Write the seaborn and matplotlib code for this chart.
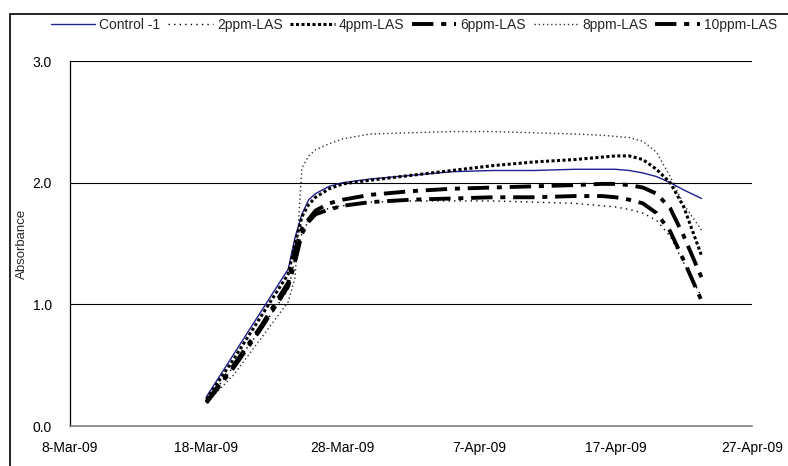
import numpy as np
import pandas as pd
import matplotlib
matplotlib.use("Agg")
import matplotlib.pyplot as plt
import matplotlib.dates as mdates
from matplotlib.patches import Rectangle
import seaborn as sns

# ---- data (days since 8-Mar-2009) ----
start_date = "2009-03-08"
day_offsets = [10, 12, 14, 16, 16.5, 17, 17.5, 18, 19, 20, 22, 25, 28, 31, 34, 37,
               39, 40, 41, 42, 43, 44, 45, 46.3]
control_1 = [0.24, 0.59, 0.94, 1.29, 1.55, 1.74, 1.86, 1.91, 1.97, 2.00, 2.03, 2.06,
             2.09, 2.10, 2.10, 2.11, 2.11, 2.11, 2.10, 2.08, 2.05, 2.00, 1.94, 1.87]
ppm2 = [0.20, 0.49, 0.80, 1.12, 1.38, 1.58, 1.69, 1.75, 1.79, 1.81, 1.84, 1.85,
        1.85, 1.85, 1.84, 1.83, 1.81, 1.80, 1.78, 1.75, 1.69, 1.56, 1.34, 1.06]
ppm4 = [0.22, 0.55, 0.90, 1.25, 1.50, 1.72, 1.82, 1.88, 1.95, 1.99, 2.02, 2.06,
        2.10, 2.14, 2.17, 2.19, 2.21, 2.22, 2.22, 2.19, 2.11, 2.00, 1.80, 1.40]
ppm6 = [0.20, 0.50, 0.82, 1.18, 1.45, 1.62, 1.70, 1.77, 1.83, 1.86, 1.90, 1.93,
        1.95, 1.96, 1.97, 1.98, 1.99, 1.99, 1.98, 1.96, 1.91, 1.79, 1.56, 1.22]
ppm8 = [0.19, 0.42, 0.72, 1.02, 1.22, 2.12, 2.22, 2.27, 2.32, 2.36, 2.40, 2.41,
        2.42, 2.42, 2.41, 2.40, 2.39, 2.38, 2.37, 2.34, 2.25, 2.05, 1.82, 1.61]
ppm10 = [0.19, 0.48, 0.80, 1.15, 1.35, 1.58, 1.68, 1.74, 1.78, 1.81, 1.84, 1.86,
         1.87, 1.88, 1.88, 1.89, 1.89, 1.88, 1.86, 1.83, 1.75, 1.60, 1.36, 1.03]
series_names = ["Control -1", "2ppm-LAS", "4ppm-LAS", "6ppm-LAS", "8ppm-LAS", "10ppm-LAS"]
y_ticks = [0.0, 1.0, 2.0, 3.0]
x_tick_dates = ["2009-03-08", "2009-03-18", "2009-03-28", "2009-04-07", "2009-04-17", "2009-04-27"]

dates = pd.Timestamp(start_date) + pd.to_timedelta(day_offsets, unit="D")
values = [control_1, ppm2, ppm4, ppm6, ppm8, ppm10]

styles = {
    "Control -1": dict(color="#1f1f8f", lw=1.0, ls="-"),
    "2ppm-LAS": dict(color="black", lw=1.0, ls=(0, (1, 3))),
    "4ppm-LAS": dict(color="black", lw=2.2, ls=(0, (1, 0.8))),
    "6ppm-LAS": dict(color="black", lw=2.8, ls=(0, (5.5, 2, 1.3, 2))),
    "8ppm-LAS": dict(color="#333333", lw=1.0, ls=(0, (1, 2))),
    "10ppm-LAS": dict(color="black", lw=2.8, ls=(0, (5.5, 2, 1.3, 2))),
}

sns.set_style("white")
plt.rcParams["font.family"] = ["Liberation Sans", "DejaVu Sans"]

W, H = 788, 466
fig = plt.figure(figsize=(W / 100, H / 100), dpi=100)
ax = fig.add_axes([70 / W, 1 - 426 / H, (752 - 70) / W, (426 - 61) / H])

for name, vals in zip(series_names, values):
    df = pd.DataFrame({"date": dates, "abs": vals})
    st = styles[name]
    sns.lineplot(data=df, x="date", y="abs", ax=ax, color=st["color"],
                 linewidth=st["lw"], linestyle=st["ls"], label=name)

ax.set_xlim(pd.Timestamp(x_tick_dates[0]), pd.Timestamp(x_tick_dates[-1]))
ax.set_ylim(0, 3)
ax.set_yticks(y_ticks)
ax.set_yticklabels([f"{v:.1f}" for v in y_ticks])
ax.set_xticks([pd.Timestamp(d) for d in x_tick_dates])
ax.xaxis.set_major_formatter(mdates.DateFormatter("%-d-%b-%y"))
ax.grid(axis="y", color="black", lw=0.8)
ax.grid(axis="x", visible=False)
for s in ["top", "right"]:
    ax.spines[s].set_visible(False)
ax.spines["left"].set_color("black")
ax.spines["left"].set_linewidth(0.9)
ax.spines["bottom"].set_color("#808080")
ax.spines["bottom"].set_linewidth(1.2)
ax.tick_params(axis="both", labelsize=10, direction="out", length=4, width=0.8,
               colors="black")
ax.tick_params(axis="x", color="#808080", pad=7)
ax.tick_params(axis="y", pad=9)
ax.set_xlabel("")
ax.set_ylabel("Absorbance", fontsize=9.5, labelpad=3)

leg = ax.legend(loc="center", bbox_to_anchor=(414 / W, 1 - 25 / H),
                bbox_transform=fig.transFigure, ncol=6, frameon=False,
                fontsize=10, handlelength=3.2, handletextpad=0.3,
                columnspacing=0.55, borderaxespad=0)

fig.patches.append(Rectangle((10 / W, -0.1), 1.2, 1 - 14 / H + 0.1,
                             transform=fig.transFigure, fill=False,
                             edgecolor="black", lw=1.2, clip_on=False))

fig.savefig("out.png", dpi=100)
